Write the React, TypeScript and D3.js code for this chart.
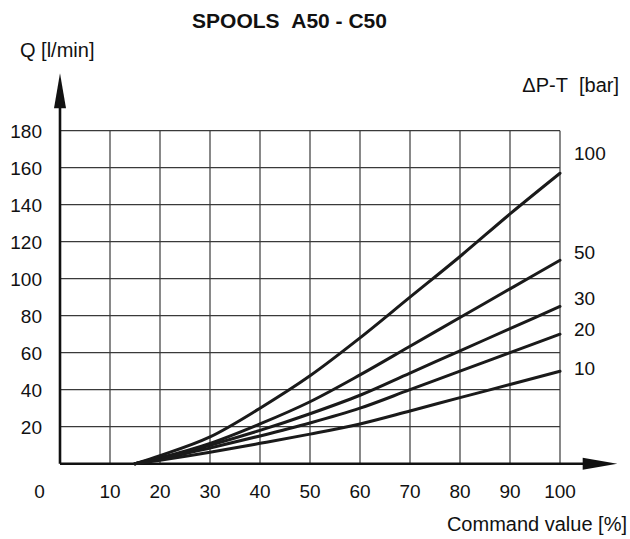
import * as d3 from 'd3';

const commandValues = [15, 20, 30, 40, 50, 60, 70, 80, 90, 100];
const flow100 = [0, 4.4, 14.5, 30, 47.5, 68, 90, 112, 135, 157];
const flow50 = [0, 3.2, 11, 21.5, 33.5, 48, 63.5, 79, 94.5, 110];
const flow30 = [0, 2.9, 10, 18, 27, 37, 49, 61, 73, 85];
const flow20 = [0, 2.5, 8.5, 15, 22, 30, 40, 50, 60, 70];
const flow10 = [0, 1.9, 6.2, 11, 16, 21.5, 28.5, 35.7, 42.8, 50];

const seriesLabels = ['100', '50', '30', '20', '10'];
const seriesValues = [flow100, flow50, flow30, flow20, flow10];
const xTicks = [0, 10, 20, 30, 40, 50, 60, 70, 80, 90, 100];
const yTicks = [20, 40, 60, 80, 100, 120, 140, 160, 180];

const W = 630;
const H = 539;
const FONT = "'Liberation Sans', Arial, sans-serif";

function App() {
  const x = d3.scaleLinear().domain([0, 100]).range([60, 560]);
  const y = d3.scaleLinear().domain([0, 180]).range([463.7, 130.7]);

  const line = d3
    .line<[number, number]>()
    .x(d => x(d[0]))
    .y(d => y(d[1]))
    .curve(d3.curveMonotoneX);

  // vertical centre of each pressure label at the right side
  const labelY: Record<string, number> = {
    '100': 153,
    '50': 251.5,
    '30': 298,
    '20': 329,
    '10': 368,
  };

  const x0 = x(0);
  const y0 = y(0);

  return (
    <svg width={W} height={H} style={{ position: 'absolute', left: 0, top: 0 }} fontFamily={FONT}>
      <rect width={W} height={H} fill="#fff" />

      <text x={289.5} y={28} textAnchor="middle" fontSize={21} fontWeight="bold" fill="#111">
        SPOOLS&#160;&#160;A50 - C50
      </text>
      <text x={20} y={56.5} fontSize={20} fill="#111">Q [l/min]</text>
      <text x={619} y={92} textAnchor="end" fontSize={20} fill="#111">
        {'\u0394P-T\u00a0\u00a0[bar]'}
      </text>

      {/* grid */}
      <g stroke="#3a3a3a" strokeWidth={1.2}>
        {xTicks.slice(1).map(t => (
          <line key={'gx' + t} x1={x(t)} x2={x(t)} y1={y(180)} y2={y0} />
        ))}
        {yTicks.map(t => (
          <line key={'gy' + t} x1={x0} x2={x(100)} y1={y(t)} y2={y(t)} />
        ))}
      </g>

      {/* axes with arrows */}
      <line x1={x0} x2={590} y1={y0} y2={y0} stroke="#111" strokeWidth={2.6} />
      <path d={`M${582.7},${y0 - 6}L${617.3},${y0}L${582.7},${y0 + 6}Z`} fill="#111" />
      <line x1={x0} x2={x0} y1={y0} y2={100} stroke="#111" strokeWidth={2.6} />
      <path d={`M${x0 - 6},${108.3}L${x0},${73.3}L${x0 + 6},${108.3}Z`} fill="#111" />

      {/* tick labels */}
      {yTicks.map(t => (
        <text key={'ly' + t} x={42} y={y(t) + 7} textAnchor="end" fontSize={19} fill="#111">
          {t}
        </text>
      ))}
      {xTicks.map(t => (
        <text
          key={'lx' + t}
          x={t === 0 ? 39.5 : x(t)}
          y={498}
          textAnchor="middle"
          fontSize={19}
          fill="#111"
        >
          {t}
        </text>
      ))}
      <text x={627} y={531} textAnchor="end" fontSize={20} fill="#111">
        Command value [%]
      </text>

      {/* curves */}
      {seriesValues.map((vals, i) => (
        <path
          key={'c' + i}
          d={line(commandValues.map((c, j) => [c, vals[j]] as [number, number])) || ''}
          fill="none"
          stroke="#1a1a1a"
          strokeWidth={3}
          strokeLinecap="round"
        />
      ))}
      {seriesLabels.map(l => (
        <text key={'sl' + l} x={574} y={labelY[l] + 7} fontSize={19} fill="#111">
          {l}
        </text>
      ))}
    </svg>
  );
}

export default App;
